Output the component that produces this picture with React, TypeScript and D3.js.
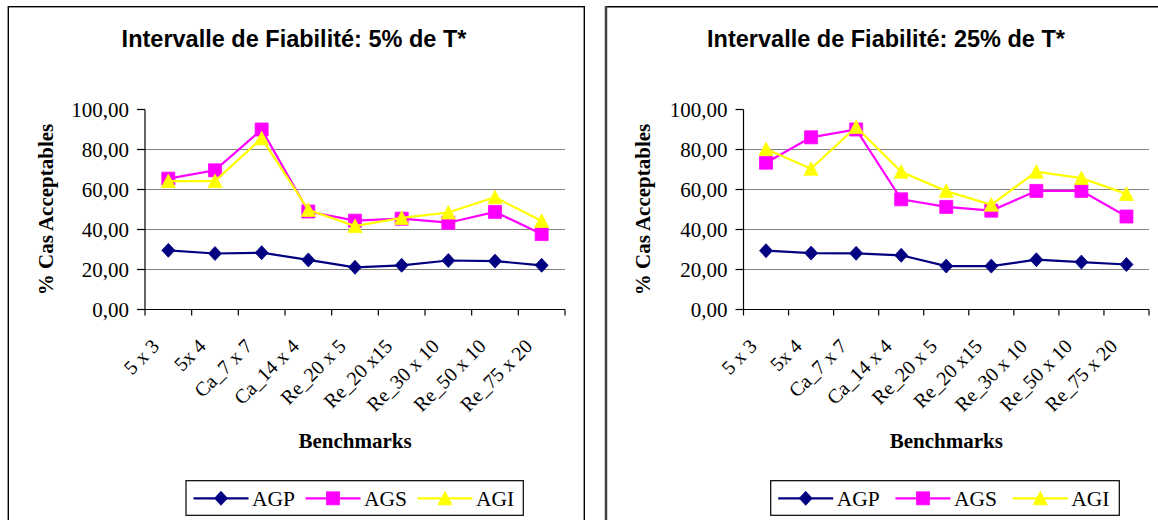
import React from "react";
import * as d3 from "d3";

const categories = ["5 x 3", "5x 4", "Ca_7 x 7", "Ca_14 x 4", "Re_20 x 5", "Re_20 x15", "Re_30 x 10", "Re_50 x 10", "Re_75 x 20"];
const yTicks = [0, 20, 40, 60, 80, 100];
const seriesNames = ["AGP", "AGS", "AGI"];
const seriesColors = ["#000080", "#FF00FF", "#FFFF00"];

const left_AGP = [29.6, 28.0, 28.4, 24.8, 21.1, 22.1, 24.5, 24.2, 22.1];
const left_AGS = [65.4, 69.6, 90.0, 49.0, 44.4, 45.4, 43.4, 48.8, 37.7];
const left_AGI = [64.2, 64.2, 85.6, 49.8, 41.7, 45.8, 48.5, 56.1, 44.3];

const right_AGP = [29.4, 28.2, 28.1, 27.1, 21.7, 21.7, 24.9, 23.7, 22.5];
const right_AGS = [73.4, 86.1, 90.0, 55.1, 51.3, 49.4, 59.3, 59.3, 46.5];
const right_AGI = [80.2, 70.4, 91.3, 68.9, 59.2, 52.4, 68.9, 65.7, 57.8];

const titles = ["Intervalle de Fiabilité: 5% de T*", "Intervalle de Fiabilité: 25% de T*"];

const fmt = (v: number) => v.toFixed(2).replace(".", ",");

function markerPath(kind: number): string {
  if (kind === 0) return "M0,-7L6.5,0L0,7L-6.5,0Z";
  if (kind === 1) return "M-6.5,-6.5H6.5V6.5H-6.5Z";
  return "M0,-7L7,6.5L-7,6.5Z";
}

type PanelProps = {
  title: string;
  titleX: number;
  x0: number;
  x1: number;
  yTitleX: number;
  data: number[][];
  legendX: number;
  legendW: number;
  legendStep: number;
};

const serif = "'Liberation Serif', 'Times New Roman', serif";

function Panel(p: PanelProps) {
  const y = d3.scaleLinear().domain([0, 100]).range([309.5, 109.5]);
  const x = d3.scaleBand<string>().domain(categories).range([p.x0, p.x1]).padding(0);
  const cx = (c: string) => (x(c) as number) + x.bandwidth() / 2;
  const line = d3
    .line<number>()
    .x((_, i) => cx(categories[i]))
    .y((v) => y(v));
  const boundaries = categories.map((c) => x(c) as number).concat([p.x1]);
  const midX = (p.x0 + p.x1) / 2;
  return (
    <g>
      <text x={p.titleX} y={46.5} textAnchor="middle" fontFamily="'Liberation Sans', Arial, sans-serif" fontWeight="bold" fontSize={23.5}>
        {p.title}
      </text>
      {yTicks.filter((t) => t > 0 && t < 100).map((t) => (
        <line key={"g" + t} x1={p.x0} x2={p.x1} y1={y(t)} y2={y(t)} stroke="#808080" strokeWidth={1.2} />
      ))}
      <line x1={p.x0} x2={p.x0} y1={y(100)} y2={y(0)} stroke="#000" strokeWidth={1.2} />
      <line x1={p.x0} x2={p.x1} y1={y(0)} y2={y(0)} stroke="#000" strokeWidth={1.2} />
      {yTicks.map((t) => (
        <g key={"yt" + t}>
          <line x1={p.x0 - 8} x2={p.x0} y1={y(t)} y2={y(t)} stroke="#000" strokeWidth={1.2} />
          <text x={p.x0 - 16} y={y(t)} dy="0.35em" textAnchor="end" fontFamily={serif} fontSize={21}>
            {fmt(t)}
          </text>
        </g>
      ))}
      {boundaries.map((b, i) => (
        <line key={"xt" + i} x1={b} x2={b} y1={y(0)} y2={y(0) + 6} stroke="#000" strokeWidth={1.2} />
      ))}
      {categories.map((c) => (
        <text
          key={"xl" + c}
          transform={`translate(${cx(c) - 8},${y(0) + 38}) rotate(-45)`}
          textAnchor="end"
          fontFamily={serif}
          fontSize={20}
        >
          {c}
        </text>
      ))}
      <text x={midX} y={448} textAnchor="middle" fontFamily={serif} fontWeight="bold" fontSize={21}>
        Benchmarks
      </text>
      <text
        transform={`translate(${p.yTitleX},${(y(0) + y(100)) / 2}) rotate(-90)`}
        textAnchor="middle"
        fontFamily={serif}
        fontWeight="bold"
        fontSize={21}
      >
        % Cas Acceptables
      </text>
      {p.data.map((vals, si) => (
        <g key={"s" + si}>
          <path d={line(vals) || ""} fill="none" stroke={seriesColors[si]} strokeWidth={2.2} />
          {vals.map((v, i) => (
            <path
              key={i}
              d={markerPath(si)}
              transform={`translate(${cx(categories[i])},${y(v)})`}
              fill={seriesColors[si]}
              stroke={seriesColors[si]}
              strokeWidth={0.8}
            />
          ))}
        </g>
      ))}
      <rect x={p.legendX} y={480.7} width={p.legendW} height={34.6} fill="#fff" stroke="#000" strokeWidth={1.2} />
      {seriesNames.map((n, si) => {
        const lx = p.legendX + 7.5 + si * p.legendStep;
        return (
          <g key={"lg" + n}>
            <line x1={lx} x2={lx + 55} y1={498.3} y2={498.3} stroke={seriesColors[si]} strokeWidth={2.2} />
            <path d={markerPath(si)} transform={`translate(${lx + 27.5},498.3)`} fill={seriesColors[si]} stroke={seriesColors[si]} strokeWidth={0.8} />
            <text x={lx + 58.5} y={506} fontFamily={serif} fontSize={21.5}>
              {n}
            </text>
          </g>
        );
      })}
    </g>
  );
}

export default function App() {
  return (
    <svg width={1158} height={520} style={{ position: "absolute", left: 0, top: 0, background: "#fff" }}>
      <rect x={0} y={0} width={1158} height={520} fill="#fff" />
      <rect x={8.3} y={6.7} width={576} height={600} fill="none" stroke="#000" strokeWidth={1.4} />
      <line x1={605} x2={1160} y1={6.7} y2={6.7} stroke="#000" strokeWidth={1.4} />
      <line x1={606} x2={606} y1={6} y2={530} stroke="#404040" strokeWidth={2.5} />
      <Panel
        title={titles[0]}
        titleX={294}
        x0={145}
        x1={565}
        yTitleX={53}
        data={[left_AGP, left_AGS, left_AGI]}
        legendX={186}
        legendW={337.3}
        legendStep={112}
      />
      <Panel
        title={titles[1]}
        titleX={886}
        x0={743.5}
        x1={1149}
        yTitleX={650}
        data={[right_AGP, right_AGS, right_AGI]}
        legendX={770.7}
        legendW={348.6}
        legendStep={117.3}
      />
    </svg>
  );
}
